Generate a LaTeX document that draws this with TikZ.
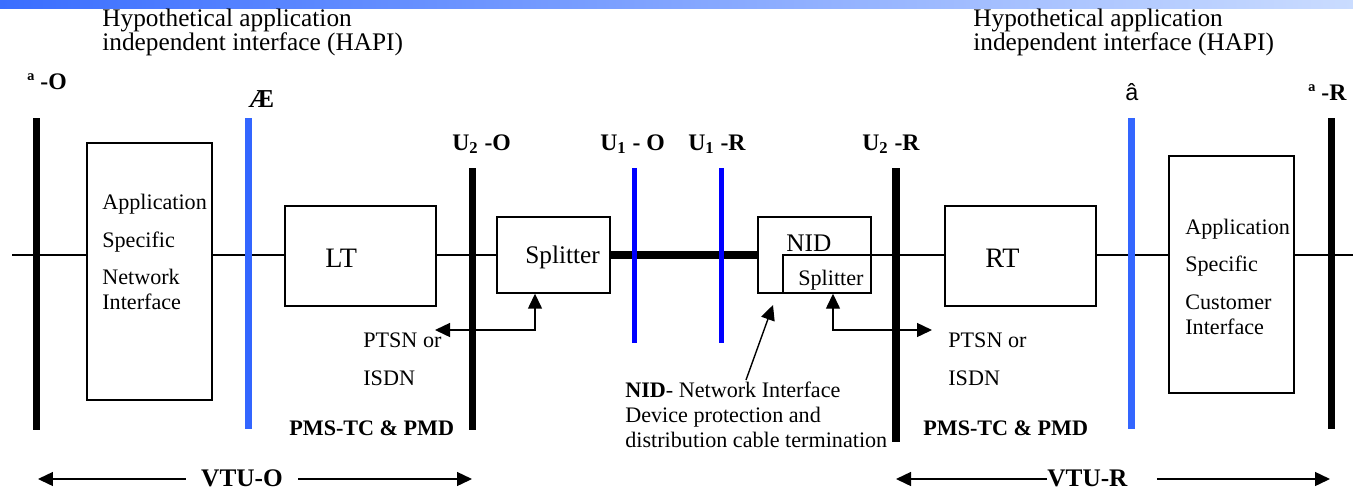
\documentclass[tikz,border=0pt]{standalone}
\usepackage{fontspec}
\setmainfont{Liberation Serif}
\newfontfamily\sansf{Liberation Sans}
\usetikzlibrary{arrows.meta,positioning}
\definecolor{INK}{HTML}{000000}
\definecolor{HBLUE}{HTML}{3366FF}
\definecolor{UBLUE}{HTML}{0000FF}
\definecolor{BARL}{HTML}{3A6EFF}
\definecolor{BARR}{HTML}{CADCFF}

\begin{document}
\begin{tikzpicture}[x=0.02cm,y=-0.02cm]
\tikzset{bar/.style={line width=4pt,INK},hbar/.style={line width=4pt,HBLUE},ubar/.style={line width=2.8pt,UBLUE},
 box/.style={draw=INK,fill=white,line width=0.8pt,inner sep=0pt},ln/.style={line width=0.8pt,INK},thk/.style={line width=4pt,INK},
 arr/.style={ln,-{Triangle[length=3mm,width=2.8mm]}},
 txt/.style={anchor=base west,inner sep=0pt,align=left,font=\fontsize{12.6}{14.2}\selectfont},
 hapi/.style={txt,font=\fontsize{14.4}{13.4}\selectfont},
 hdr/.style={anchor=base west,inner sep=0pt,font=\bfseries\fontsize{13.5}{15}\selectfont}}
\useasboundingbox (0,0) rectangle (1353,491);
\shade[left color=BARL,right color=BARR] (0,0) rectangle (1353,8);
\coordinate (w0) at (12,255);\coordinate (w1) at (1353,255);
\draw[ln] (w0)--(w1);
\node[box,minimum width=2.26cm,minimum height=1.52cm] (spl) at (553.5,255) {};
\node[box,minimum width=2.26cm,minimum height=1.52cm] (nid) at (814.5,255) {};
\draw[thk] (spl.east)--(nid.west);
\node[box,minimum width=1.76cm,minimum height=0.76cm] (nidspl) at (827,274) {};
\node[box,minimum width=2.5cm,minimum height=5.14cm] (asni) at (149.5,271.5) {};
\node[box,minimum width=3.02cm,minimum height=2cm] (lt) at (360.5,256) {};
\node[box,minimum width=3.02cm,minimum height=2cm] (rt) at (1020.5,256) {};
\node[box,minimum width=2.5cm,minimum height=4.74cm] (asci) at (1231.5,274.5) {};
\draw[bar] (36.5,118)--(36.5,430);\draw[hbar] (248.5,118)--(248.5,429);
\draw[bar] (472.5,168)--(472.5,430);\draw[ubar] (634.5,168)--(634.5,343);\draw[ubar] (721.5,168)--(721.5,343);
\draw[bar] (896,168)--(896,442);\draw[hbar] (1131.5,118)--(1131.5,429);\draw[bar] (1331.5,118)--(1331.5,429);
\node[hapi] (hapil) at (102,50) {Hypothetical application\\independent interface (HAPI)};
\node[hapi] (hapir) at (973,50) {Hypothetical application\\independent interface (HAPI)};
\node[hdr] (refo) at (27,89) {ª -O};
\node[hdr,font=\bfseries\fontsize{14.7}{16}\selectfont] (ae) at (248,107) {Æ};
\node[hdr,font=\sansf\fontsize{13.3}{15}\selectfont] (acirc) at (1125,100) {â};
\node[hdr] (refr) at (1308,100) {ª -R};
\node[hdr] (u2o) at (452,150) {U\textsubscript{2} -O};\node[hdr] (u1o) at (600,150) {U\textsubscript{1} - O};
\node[hdr] (u1r) at (688,150) {U\textsubscript{1} -R};\node[hdr] (u2r) at (862,150) {U\textsubscript{2} -R};
\node[txt] (asnit) at (102,309) {Application\\[7.4pt]Specific\\[6.8pt]Network\\Interface};
\node[txt] (ascit) at (1185,334) {Application\\[6.8pt]Specific\\[7.4pt]Customer\\Interface};
\node[txt,font=\fontsize{16}{18}\selectfont] (ltt) at (325,267) {LT};
\node[txt,font=\fontsize{16}{18}\selectfont] (rtt) at (985,267) {RT};
\node[txt,font=\fontsize{14.4}{16}\selectfont] (splt) at (525,263) {Splitter};
\node[txt,font=\fontsize{14.4}{16}\selectfont] (nidt) at (786,251) {NID};
\node[txt] (nidsplt) at (798,285) {Splitter};
\node[txt] (ptsnl) at (363,385) {PTSN or\\[7.3pt]ISDN};
\node[txt] (ptsnr) at (948,385) {PTSN or\\[7.3pt]ISDN};
\node[txt,font=\bfseries\fontsize{12.6}{14.2}\selectfont] (pmsl) at (289,435) {PMS-TC \& PMD};
\node[txt,font=\bfseries\fontsize{12.6}{14.2}\selectfont] (pmsr) at (923,435) {PMS-TC \& PMD};
\node[txt,font=\fontsize{12.6}{14.2}\selectfont] (nidnote) at (625,447) {\textbf{NID}- Network Interface\\Device protection and\\distribution cable termination};
\coordinate (pl) at (435,330);\coordinate (pr) at (932,330);
\draw[arr,{Triangle[length=3mm,width=2.8mm]}-{Triangle[length=3mm,width=2.8mm]}] (pl) -| ([xshift=-0.37cm]spl.south);
\draw[arr,{Triangle[length=3mm,width=2.8mm]}-{Triangle[length=3mm,width=2.8mm]}] (pr) -| ([xshift=0.12cm]nidspl.south);
\coordinate (nidtail) at (746,380);\coordinate (nidtip) at (773,305);
\draw[arr] (nidtail)--(nidtip);
\node[hdr,font=\bfseries\fontsize{14.4}{16}\selectfont,anchor=base,inner xsep=0.3cm] (vtuo) at (242,486) {VTU-O};
\node[hdr,font=\bfseries\fontsize{14.4}{16}\selectfont] (vtur) at (1047,486) {VTU-R};
\coordinate (vol) at (38,479);\coordinate (vor) at (472,479);\coordinate (vrl) at (896,479);\coordinate (vrr) at (1330,479);
\draw[arr] (vtuo.west|-vol)--(vol);\draw[arr] (vtuo.east|-vor)--(vor);
\draw[arr] (vtur.west|-vrl)--(vrl);\draw[arr] ([xshift=0.58cm]vtur.east|-vrr)--(vrr);
\end{tikzpicture}
\end{document}
